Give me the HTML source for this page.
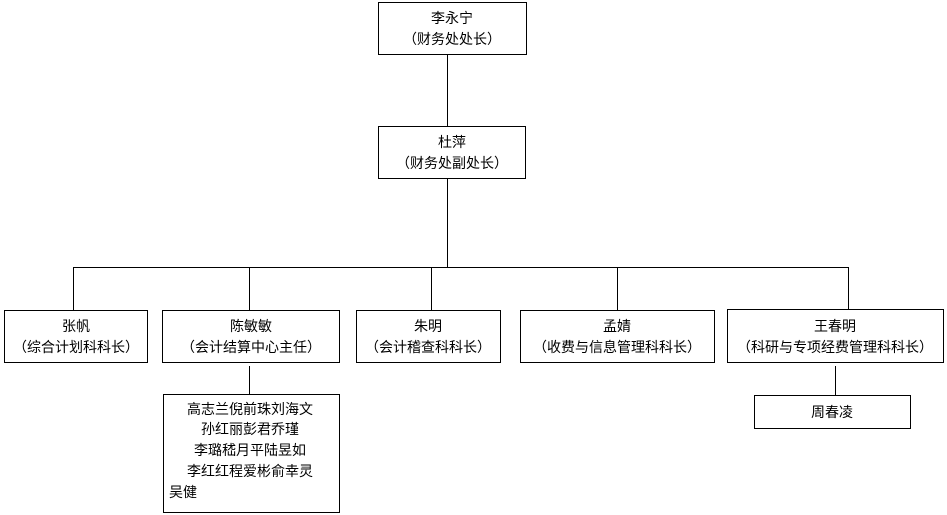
<!DOCTYPE html>
<html><head><meta charset="utf-8"><style>
html,body{margin:0;padding:0;background:#fff;}
svg{display:block;}
text{font-family:"Liberation Sans","Noto Sans CJK SC","WenQuanYi Zen Hei",sans-serif;font-size:14px;fill:#000;}
</style></head><body>
<svg width="947" height="515" viewBox="0 0 947 515" xmlns="http://www.w3.org/2000/svg">
<g fill="none" stroke="#000" stroke-width="1" shape-rendering="crispEdges">
<rect x="378.5" y="2.5" width="148" height="52"/>
<rect x="378.5" y="126.5" width="147" height="52"/>
<line x1="447.5" y1="54" x2="447.5" y2="126"/>
<line x1="447.5" y1="178" x2="447.5" y2="267"/>
<line x1="73" y1="267.5" x2="849" y2="267.5"/>
<line x1="73.5" y1="267" x2="73.5" y2="310"/>
<line x1="249.5" y1="267" x2="249.5" y2="310"/>
<line x1="431.5" y1="267" x2="431.5" y2="310"/>
<line x1="617.5" y1="267" x2="617.5" y2="310"/>
<line x1="848.5" y1="267" x2="848.5" y2="310"/>
<rect x="4.5" y="310.5" width="143" height="52"/>
<rect x="162.5" y="310.5" width="177" height="52"/>
<rect x="356.5" y="310.5" width="144" height="52"/>
<rect x="520.5" y="310.5" width="194" height="52"/>
<rect x="727.5" y="309.5" width="216" height="53"/>
<line x1="249.5" y1="366" x2="249.5" y2="394"/>
<rect x="163.5" y="394.5" width="176" height="118"/>
<line x1="835.5" y1="366" x2="835.5" y2="395"/>
<rect x="754.5" y="395.5" width="156" height="33"/>
</g>
<g text-anchor="middle">
<text x="452" y="23">李永宁</text>
<text x="452" y="44">（财务处处长）</text>
<text x="452" y="147">杜萍</text>
<text x="452" y="168">（财务处副处长）</text>
<text x="76" y="331">张帆</text>
<text x="76" y="352">（综合计划科科长）</text>
<text x="251" y="331">陈敏敏</text>
<text x="251" y="352">（会计结算中心主任）</text>
<text x="428" y="331">朱明</text>
<text x="428" y="352">（会计稽查科科长）</text>
<text x="617" y="331">孟婧</text>
<text x="617" y="352">（收费与信息管理科科长）</text>
<text x="835" y="331">王春明</text>
<text x="835" y="352">（科研与专项经费管理科科长）</text>
<text x="832" y="417">周春凌</text>
<text x="250" y="414">高志兰倪前珠刘海文</text>
<text x="250" y="434">孙红丽彭君乔瑾</text>
<text x="250" y="455">李璐嵇月平陆昱如</text>
<text x="250" y="476">李红红程爱彬俞幸灵</text>
</g>
<text x="169" y="497">吴健</text>
</svg>
</body></html>
